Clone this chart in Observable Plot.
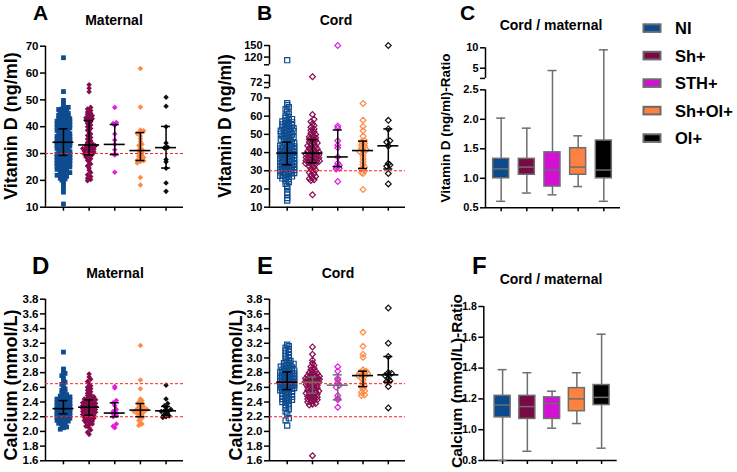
<!DOCTYPE html>
<html><head><meta charset="utf-8">
<script src="https://cdn.jsdelivr.net/npm/d3@7"></script>
<script src="https://cdn.jsdelivr.net/npm/@observablehq/plot@0.6"></script>
<style>
body{margin:0;background:#fff;}
#chart{position:relative;width:737px;height:472px;overflow:hidden;background:#fff;}
#chart svg{position:absolute;left:0;top:0;}
#chart svg [aria-label^="y-axis"] line,#chart svg [aria-label^="y-axis"] path,
#chart svg [aria-label^="x-axis"] line,#chart svg [aria-label^="x-axis"] path{stroke-width:1.5px;}
</style></head>
<body><div id="chart"></div>
<script>
const W = 737, H = 472;
const FONT = "'Liberation Sans', Arial, Helvetica, sans-serif";

// ---------- categories & colours ----------
const groups = ["NI", "Sh+", "STH+", "Sh+OI+", "OI+"];
const boxColors = ["#0b4a8e", "#7a0a45", "#d60fd6", "#fd8240", "#000000"];
const dotColors = ["#0f4c8f", "#860c4e", "#e21ee2", "#ff8a46", "#111111"];
const dotSymbols = ["square", "diamond2", "diamond2", "diamond2", "diamond2"];

// ---------- A: maternal vitamin D (ng/ml) ----------
const vitdMatNI = [65.7, 53.1, 49.8, 48.9, 47.6, 47.2, 46.8, 46.6, 46.4, 46.1, 45.7, 45.4, 45.0, 44.9, 44.6, 44.3, 44.1, 43.8, 43.5, 43.2, 43.0, 42.9, 42.5, 42.3, 42.1, 41.8, 41.6, 41.5, 41.2, 41.0, 40.8, 40.6, 40.4, 40.2, 39.9, 39.6, 39.4, 39.1, 38.8, 38.6, 38.3, 38.1, 37.9, 37.6, 37.4, 37.1, 36.9, 36.7, 36.4, 36.2, 36.0, 35.8, 35.6, 35.4, 35.2, 35.0, 34.9, 34.7, 34.6, 34.4, 34.3, 34.2, 34.0, 33.8, 33.6, 33.4, 33.2, 33.0, 32.8, 32.5, 32.3, 32.1, 31.9, 31.6, 31.4, 31.2, 31.0, 30.7, 30.5, 30.3, 30.1, 29.9, 29.8, 29.6, 29.5, 29.4, 29.3, 29.0, 28.9, 28.7, 28.5, 28.3, 28.0, 27.9, 27.6, 27.4, 27.3, 27.1, 26.9, 26.7, 26.5, 26.3, 26.1, 25.9, 25.7, 25.4, 25.2, 25.0, 24.8, 24.6, 24.3, 24.1, 23.8, 23.6, 23.3, 22.9, 22.7, 22.4, 22.1, 21.9, 21.5, 21.0, 20.8, 20.5, 20.1, 19.3, 18.4, 17.2, 15.6, 11.2];
const vitdMatSh = [55.6, 54.3, 53.0, 47.2, 46.6, 46.0, 45.5, 45.0, 44.6, 44.1, 43.7, 43.3, 43.0, 42.7, 42.4, 41.8, 41.2, 40.6, 40.0, 39.3, 38.7, 38.0, 37.3, 36.7, 36.0, 35.4, 34.8, 34.2, 33.7, 33.3, 33.1, 32.9, 32.6, 32.4, 32.1, 31.9, 31.6, 31.4, 31.1, 30.9, 30.6, 30.4, 30.1, 29.8, 29.6, 29.2, 28.7, 28.1, 27.5, 26.8, 26.1, 25.4, 24.6, 23.8, 22.9, 22.1, 21.4, 20.8, 20.3, 19.9];
const vitdMatSTH = [47.2, 41.6, 41.2, 40.5, 37.3, 35.0, 33.4, 31.4, 29.8, 29.5, 23.0];
const vitdMatShOI = [61.7, 47.3, 38.8, 38.5, 38.0, 37.5, 36.5, 35.5, 34.5, 33.5, 33.0, 32.0, 31.5, 31.1, 30.5, 30.0, 29.5, 29.0, 28.5, 28.0, 27.5, 27.3, 27.0, 26.5, 21.1, 18.3];
const vitdMatOI = [51.0, 47.6, 40.0, 33.9, 32.3, 32.1, 27.8, 26.9, 24.5, 19.0, 15.9];
const vitdMatMedian = [34.2, 33.2, 33.4, 31.1, 32.2];
const vitdMatQ1 = [29.3, 29.5, 29.6, 27.4, 24.6];
const vitdMatQ3 = [39.2, 42.3, 40.8, 37.8, 40.1];

// ---------- B: cord vitamin D (ng/ml) ----------
const vitdCordNI = [112, 67.1, 66.0, 65.0, 63.8, 62.5, 61.4, 60.3, 59.4, 59.0, 58.4, 58.0, 57.5, 57.1, 56.6, 56.2, 55.8, 55.4, 55.0, 54.6, 54.2, 53.8, 53.4, 53.1, 52.7, 52.4, 52.0, 51.7, 51.3, 51.0, 50.6, 50.3, 49.9, 49.6, 49.2, 48.9, 48.5, 48.2, 47.8, 47.5, 47.1, 46.5, 45.9, 45.5, 45.2, 44.9, 44.7, 44.4, 44.2, 43.9, 43.7, 43.4, 43.2, 42.9, 42.7, 42.5, 42.2, 42.0, 41.8, 41.5, 41.3, 41.1, 40.9, 40.7, 40.5, 40.3, 40.2, 40.0, 39.9, 39.8, 39.5, 39.2, 39.0, 38.7, 38.5, 38.2, 38.0, 37.7, 37.5, 37.2, 37.0, 36.7, 36.5, 36.2, 36.0, 35.7, 35.5, 35.2, 35.0, 34.7, 34.5, 34.3, 34.1, 33.9, 33.7, 33.5, 33.4, 33.1, 32.9, 32.8, 32.5, 32.2, 32.0, 31.8, 31.5, 31.3, 31.1, 30.8, 30.6, 30.4, 30.0, 29.8, 29.6, 29.3, 29.1, 28.8, 28.6, 28.1, 27.8, 27.5, 27.2, 26.9, 26.5, 26.2, 25.8, 25.5, 24.7, 23.8, 22.8, 21.7, 20.2, 18.2, 16.8, 15.0, 13.7];
const vitdCordSh = [74.4, 60.9, 58.3, 57.0, 55.9, 54.9, 53.9, 53.0, 52.2, 51.4, 50.6, 49.9, 49.3, 48.7, 48.2, 47.7, 47.3, 46.8, 46.3, 45.8, 45.3, 44.8, 44.3, 43.8, 43.3, 42.9, 42.4, 42.0, 41.5, 41.1, 40.7, 40.3, 40.0, 39.8, 39.4, 39.0, 38.7, 38.3, 38.0, 37.6, 37.3, 37.0, 36.6, 36.3, 36.0, 35.7, 35.4, 35.1, 34.9, 34.7, 34.5, 34.1, 33.6, 33.0, 32.4, 31.8, 31.1, 30.4, 29.7, 29.0, 28.3, 27.6, 26.9, 26.2, 25.6, 25.1, 24.7, 16.8];
const vitdCordSTH = [150, 54.6, 53.5, 46.5, 44.0, 42.6, 37.6, 34.2, 33.0, 32.2, 31.4, 31.0, 24.1];
const vitdCordShOI = [67.0, 57.8, 54.3, 52.0, 49.0, 46.5, 46.0, 45.0, 44.0, 43.5, 42.5, 41.5, 41.1, 40.5, 39.5, 38.0, 36.5, 35.0, 33.5, 32.0, 31.0, 30.0, 29.0, 28.5, 19.7];
const vitdCordOI = [150, 57.7, 53.0, 46.5, 45.8, 43.6, 34.0, 33.2, 32.5, 28.5, 22.8];
const vitdCordMedian = [39.7, 39.7, 37.6, 41.1, 43.7];
const vitdCordQ1 = [33.3, 34.4, 32.3, 31.3, 31.0];
const vitdCordQ3 = [45.7, 47.1, 52.4, 46.3, 53.0];

// ---------- C: cord / maternal vitamin D ratio ----------
const vitdRatioMin = [0.61, 0.75, 0.72, 0.86, 0.61];
const vitdRatioQ1 = [1.00, 1.06, 0.86, 1.06, 1.00];
const vitdRatioMedian = [1.16, 1.19, 1.14, 1.19, 1.14];
const vitdRatioQ3 = [1.33, 1.33, 1.44, 1.51, 1.64];
const vitdRatioMax = [2.02, 1.85, 4.43, 1.72, 9.5];

// ---------- D: maternal calcium (mmol/L) ----------
const caMatNI = [3.08, 2.85, 2.82, 2.79, 2.76, 2.73, 2.70, 2.67, 2.64, 2.61, 2.58, 2.56, 2.54, 2.52, 2.50, 2.49, 2.48, 2.47, 2.46, 2.46, 2.45, 2.45, 2.44, 2.44, 2.43, 2.43, 2.42, 2.42, 2.41, 2.41, 2.40, 2.40, 2.39, 2.39, 2.38, 2.38, 2.37, 2.37, 2.36, 2.36, 2.35, 2.35, 2.35, 2.34, 2.34, 2.34, 2.33, 2.33, 2.33, 2.32, 2.32, 2.32, 2.31, 2.31, 2.31, 2.30, 2.30, 2.30, 2.29, 2.29, 2.29, 2.28, 2.28, 2.28, 2.27, 2.27, 2.27, 2.27, 2.26, 2.26, 2.26, 2.26, 2.25, 2.25, 2.25, 2.25, 2.24, 2.24, 2.24, 2.24, 2.24, 2.23, 2.23, 2.23, 2.22, 2.22, 2.22, 2.21, 2.21, 2.21, 2.20, 2.20, 2.19, 2.19, 2.18, 2.18, 2.17, 2.16, 2.15, 2.14, 2.13, 2.12, 2.11, 2.10, 2.08, 2.06, 2.05, 2.03];
const caMatSh = [2.78, 2.74, 2.71, 2.68, 2.65, 2.62, 2.60, 2.58, 2.56, 2.54, 2.52, 2.50, 2.49, 2.47, 2.46, 2.45, 2.44, 2.43, 2.42, 2.42, 2.41, 2.40, 2.40, 2.39, 2.38, 2.38, 2.37, 2.36, 2.36, 2.35, 2.35, 2.34, 2.34, 2.33, 2.33, 2.32, 2.31, 2.31, 2.30, 2.29, 2.29, 2.28, 2.27, 2.26, 2.26, 2.25, 2.24, 2.24, 2.23, 2.23, 2.22, 2.21, 2.20, 2.19, 2.18, 2.17, 2.16, 2.15, 2.14, 2.13, 2.12, 2.10, 2.09, 2.07, 2.05, 2.02, 1.99, 1.96];
const caMatSTH = [2.61, 2.59, 2.42, 2.39, 2.35, 2.30, 2.27, 2.25, 2.24, 2.22, 2.20, 2.10, 2.07, 2.05];
const caMatShOI = [3.17, 2.70, 2.58, 2.44, 2.42, 2.40, 2.38, 2.36, 2.34, 2.32, 2.31, 2.30, 2.30, 2.29, 2.28, 2.27, 2.26, 2.25, 2.24, 2.22, 2.20, 2.18, 2.15, 2.12, 2.10, 2.08];
const caMatOI = [2.63, 2.44, 2.38, 2.35, 2.33, 2.30, 2.28, 2.28, 2.27, 2.25, 2.23, 2.21, 2.20, 2.19];
const caMatMedian = [2.31, 2.33, 2.25, 2.29, 2.28];
const caMatQ1 = [2.24, 2.22, 2.20, 2.20, 2.22];
const caMatQ3 = [2.42, 2.43, 2.39, 2.38, 2.34];

// ---------- E: cord calcium (mmol/L) ----------
const caCordNI = [3.18, 3.16, 3.14, 3.12, 3.10, 3.08, 3.06, 3.04, 3.02, 3.00, 2.98, 2.96, 2.95, 2.93, 2.92, 2.91, 2.90, 2.89, 2.88, 2.87, 2.86, 2.85, 2.84, 2.83, 2.83, 2.82, 2.82, 2.81, 2.80, 2.80, 2.79, 2.79, 2.78, 2.78, 2.77, 2.77, 2.76, 2.76, 2.75, 2.75, 2.74, 2.74, 2.73, 2.73, 2.72, 2.72, 2.71, 2.71, 2.70, 2.70, 2.69, 2.69, 2.68, 2.68, 2.67, 2.67, 2.66, 2.66, 2.66, 2.65, 2.65, 2.64, 2.64, 2.64, 2.63, 2.63, 2.62, 2.62, 2.62, 2.61, 2.61, 2.60, 2.60, 2.60, 2.59, 2.59, 2.59, 2.58, 2.58, 2.58, 2.57, 2.56, 2.55, 2.54, 2.53, 2.52, 2.51, 2.50, 2.49, 2.48, 2.47, 2.46, 2.45, 2.44, 2.43, 2.42, 2.41, 2.40, 2.38, 2.36, 2.34, 2.32, 2.30, 2.27, 2.24, 2.18, 2.15, 2.08];
const caCordSh = [3.15, 3.05, 2.97, 2.93, 2.90, 2.88, 2.86, 2.84, 2.82, 2.81, 2.80, 2.79, 2.78, 2.77, 2.76, 2.75, 2.74, 2.74, 2.73, 2.73, 2.72, 2.72, 2.71, 2.71, 2.70, 2.70, 2.69, 2.69, 2.68, 2.68, 2.67, 2.67, 2.66, 2.65, 2.64, 2.63, 2.62, 2.61, 2.60, 2.59, 2.58, 2.57, 2.56, 2.55, 2.54, 2.53, 2.53, 2.52, 2.51, 2.50, 2.49, 2.48, 2.47, 2.46, 2.45, 2.44, 2.43, 2.42, 2.41, 2.40, 2.38, 2.37, 2.36, 1.67];
const caCordSTH = [2.88, 2.82, 2.72, 2.70, 2.66, 2.63, 2.60, 2.49, 2.45, 2.43, 2.33];
const caCordShOI = [3.35, 3.16, 3.05, 3.01, 2.84, 2.82, 2.81, 2.80, 2.79, 2.78, 2.77, 2.76, 2.75, 2.72, 2.70, 2.66, 2.62, 2.61, 2.58, 2.55, 2.53, 2.50, 2.49];
const caCordOI = [3.68, 3.20, 3.02, 2.80, 2.79, 2.77, 2.76, 2.72, 2.69, 2.68, 2.61, 2.32];
const caCordMedian = [2.67, 2.67, 2.63, 2.76, 2.77];
const caCordQ1 = [2.57, 2.52, 2.43, 2.61, 2.67];
const caCordQ3 = [2.81, 2.74, 2.77, 2.82, 3.02];

// ---------- F: cord / maternal calcium ratio ----------
const caRatioMin = [0.80, 0.86, 1.01, 1.04, 0.88];
const caRatioQ1 = [1.08, 1.07, 1.07, 1.12, 1.16];
const caRatioMedian = [1.16, 1.15, 1.17, 1.20, 1.21];
const caRatioQ3 = [1.22, 1.22, 1.21, 1.27, 1.29];
const caRatioMax = [1.39, 1.37, 1.25, 1.37, 1.62];

// ---------- tick labels & reference lines ----------
const vitdTicks = [10, 20, 30, 40, 50, 60, 70];
const vitdCordBreakTicks = [72, 120, 150];
const caTicks = [1.6, 1.8, 2.0, 2.2, 2.4, 2.6, 2.8, 3.0, 3.2, 3.4, 3.6, 3.8];
const vitdRatioTicks = [0.5, 1.0, 1.5, 2.0, 2.5, 5, 10];
const caRatioTicks = [0.8, 1.0, 1.2, 1.4, 1.6, 1.8];
const vitdCutoff = [30];
const caNormalRange = [2.2, 2.65];

// ---------- helpers ----------
function makePieces(pieces, gap) {
  let prev = null;
  return pieces.map((p) => {
    const u0 = prev === null ? p.from : prev + gap;
    const u1 = u0 + (p.to - p.from) * p.k;
    prev = u1;
    return {...p, u0, u1};
  });
}
function mapper(P) {
  return (v) => {
    let p = P.find((q) => v >= q.from && v <= q.to);
    if (!p) p = v < P[0].from ? P[0] : P[P.length - 1];
    return p.u0 + (v - p.from) * p.k;
  };
}
function tickSpec(P, labeled, fmt) {
  const out = [];
  P.forEach((p) => {
    const vals = new Set([p.from, p.to, ...labeled.filter((v) => v >= p.from && v <= p.to)]);
    for (const v of vals) {
      const first = P.find((q) => v >= q.from && v <= q.to) === p;
      out.push({u: p.u0 + (v - p.from) * p.k, label: first && labeled.includes(v) ? fmt(v) : ""});
    }
  });
  return out;
}

function basePlot(cfg, marks) {
  const [L, R, T, B] = cfg.frame;
  const P = cfg.P;
  const ticks = tickSpec(P, cfg.labeled, cfg.fmt);
  const yDomain = [P[0].u0, P[P.length - 1].u1];
  return Plot.plot({
    width: W, height: H,
    marginLeft: L, marginRight: W - R, marginTop: T, marginBottom: H - B,
    style: `background: transparent; overflow: visible; font-family: ${FONT}; font-size: ${cfg.tickFont}px; font-weight: bold; color: #000;`,
    x: {domain: cfg.xDomain, ticks: [0, 1, 2, 3, 4], tickFormat: () => "", tickSize: 4, label: null},
    y: {domain: yDomain, ticks: ticks.map((t) => t.u),
        tickFormat: (u) => (ticks.find((t) => Math.abs(t.u - u) < 1e-9) || {label: ""}).label,
        tickSize: 5, tickPadding: 2, label: null},
    color: {type: "identity"},
    marks: [
      Plot.ruleX(P, {x: () => cfg.xDomain[0], y1: "u0", y2: "u1", stroke: "#000", strokeWidth: 1.5}),
      Plot.ruleY([yDomain[0]], {stroke: "#000", strokeWidth: 1.5}),
      ...marks
    ]
  });
}

function spread(vals, gi, u, ky, kx, o) {
  const items = vals.map((v) => ({v, u: u(v)})).sort((a, b) => a.u - b.u);
  const bins = d3.groups(items, (d) => Math.round((d.u * ky) / o.bin));
  const out = [];
  for (const [, arr] of bins) {
    const n = arr.length;
    const half = Math.min(o.maxHalf, ((n - 1) * o.step) / 2);
    arr.forEach((d, k) => {
      const off = n === 1 ? 0 : -half + (k * 2 * half) / (n - 1);
      out.push({g: gi, v: d.v, x: gi + off / kx, y: d.u});
    });
  }
  return out;
}

function scatterPanel(cfg, series, stats, hollow, refs) {
  const [L, R, T, B] = cfg.frame;
  const P = cfg.P, u = mapper(P);
  const kx = (R - L) / (cfg.xDomain[1] - cfg.xDomain[0]);
  const ky = (B - T) / (P[P.length - 1].u1 - P[0].u0);
  const opt = hollow ? {bin: 3, step: 3.2, maxHalf: 7} : {bin: 3, step: 3.2, maxHalf: 6.5};
  const pts = series.flatMap((vals, gi) => spread(vals, gi, u, ky, kx, opt));
  const summ = groups.map((g, i) => ({i, med: u(stats.median[i]), q1: u(stats.q1[i]), q3: u(stats.q3[i]),
    line: stats.line ? stats.line[i] : "#000"}));
  const mh = 10.5 / kx, ch = 4.5 / kx;
  const dots = groups.map((g, i) => Plot.dot(pts.filter((p) => p.g === i), hollow
    ? {x: "x", y: "y", symbol: dotSymbols[i], r: i === 0 ? 2.9 : 2.6, stroke: dotColors[i], fill: "none", strokeWidth: 1.2}
    : {x: "x", y: "y", symbol: dotSymbols[i], r: i === 0 ? 2.7 : 2.5, fill: dotColors[i]}));
  return basePlot(cfg, [
    ...dots,
    Plot.ruleY(refs, {y: (d) => u(d), stroke: "#ff1f1f", strokeWidth: 1, strokeDasharray: "3,2"}),
    Plot.ruleX(summ, {x: "i", y1: "q1", y2: "q3", stroke: "line", strokeWidth: 1.5}),
    Plot.ruleY(summ, {y: "med", x1: (d) => d.i - mh, x2: (d) => d.i + mh, stroke: "line", strokeWidth: 1.6}),
    Plot.ruleY(summ, {y: "q1", x1: (d) => d.i - ch, x2: (d) => d.i + ch, stroke: "line", strokeWidth: 1.5}),
    Plot.ruleY(summ, {y: "q3", x1: (d) => d.i - ch, x2: (d) => d.i + ch, stroke: "line", strokeWidth: 1.5})
  ]);
}

function boxPanel(cfg, s) {
  const [L, R] = cfg.frame;
  const u = mapper(cfg.P);
  const kx = (R - L) / (cfg.xDomain[1] - cfg.xDomain[0]);
  const bh = 8 / kx, ch = 4.5 / kx;
  const LINE = "#6e6e6e";
  const data = groups.map((g, i) => ({i, min: u(s.min[i]), q1: u(s.q1[i]), med: u(s.median[i]),
    q3: u(s.q3[i]), max: u(s.max[i]), fill: boxColors[i]}));
  return basePlot(cfg, [
    Plot.ruleX(data, {x: "i", y1: "q3", y2: "max", stroke: LINE, strokeWidth: 1.5}),
    Plot.ruleX(data, {x: "i", y1: "min", y2: "q1", stroke: LINE, strokeWidth: 1.5}),
    Plot.ruleY(data, {y: "max", x1: (d) => d.i - ch, x2: (d) => d.i + ch, stroke: LINE, strokeWidth: 1.5}),
    Plot.ruleY(data, {y: "min", x1: (d) => d.i - ch, x2: (d) => d.i + ch, stroke: LINE, strokeWidth: 1.5}),
    Plot.rect(data, {x1: (d) => d.i - bh, x2: (d) => d.i + bh, y1: "q1", y2: "q3", fill: "fill", stroke: LINE, strokeWidth: 1.5}),
    Plot.ruleY(data, {y: "med", x1: (d) => d.i - bh, x2: (d) => d.i + bh, stroke: LINE, strokeWidth: 1.5})
  ]);
}

// ---------- panel configs ----------
const intFmt = (v) => String(v);
const dec1 = (v) => v.toFixed(1);
const cfgA = {frame: [45, 183, 45.7, 206.7], xDomain: [-0.7, 4.68], tickFont: 11.5,
  P: makePieces([{from: 10, to: 70, k: 1}], 0), labeled: vitdTicks, fmt: intFmt};
const cfgB = {frame: [269, 405, 45, 206.7], xDomain: [-0.7, 4.68], tickFont: 11,
  P: makePieces([{from: 10, to: 70, k: 1}, {from: 70, to: 75, k: 1.36}, {from: 100, to: 150, k: 0.212}], 5.7),
  labeled: vitdTicks.concat(vitdCordBreakTicks), fmt: intFmt};
const cfgC = {frame: [485, 620, 47.3, 207.3], xDomain: [-0.61, 4.65], tickFont: 11,
  P: makePieces([{from: 0.5, to: 2.5, k: 1}, {from: 2.5, to: 10, k: 0.0692}], 0.193),
  labeled: vitdRatioTicks, fmt: (v) => (v < 3 ? v.toFixed(1) : String(v))};
const cfgD = {frame: [45, 183, 298.7, 460.3], xDomain: [-0.7, 4.68], tickFont: 11.5,
  P: makePieces([{from: 1.6, to: 3.8, k: 1}], 0), labeled: caTicks, fmt: dec1};
const cfgE = {frame: [269, 405, 298.7, 460.3], xDomain: [-0.7, 4.68], tickFont: 11.5,
  P: makePieces([{from: 1.6, to: 3.8, k: 1}], 0), labeled: caTicks, fmt: dec1};
const cfgF = {frame: [483.3, 616.7, 306, 460], xDomain: [-0.76, 4.63], tickFont: 10.5,
  P: makePieces([{from: 0.8, to: 1.8, k: 1}], 0), labeled: caRatioTicks, fmt: dec1};

const chart = document.getElementById("chart");
chart.append(
  scatterPanel(cfgA, [vitdMatNI, vitdMatSh, vitdMatSTH, vitdMatShOI, vitdMatOI],
    {median: vitdMatMedian, q1: vitdMatQ1, q3: vitdMatQ3}, false, vitdCutoff),
  scatterPanel(cfgB, [vitdCordNI, vitdCordSh, vitdCordSTH, vitdCordShOI, vitdCordOI],
    {median: vitdCordMedian, q1: vitdCordQ1, q3: vitdCordQ3}, true, vitdCutoff),
  boxPanel(cfgC, {min: vitdRatioMin, q1: vitdRatioQ1, median: vitdRatioMedian, q3: vitdRatioQ3, max: vitdRatioMax}),
  scatterPanel(cfgD, [caMatNI, caMatSh, caMatSTH, caMatShOI, caMatOI],
    {median: caMatMedian, q1: caMatQ1, q3: caMatQ3}, false, caNormalRange),
  scatterPanel(cfgE, [caCordNI, caCordSh, caCordSTH, caCordShOI, caCordOI],
    {median: caCordMedian, q1: caCordQ1, q3: caCordQ3, line: ["#000", "#6e6e6e", "#6e6e6e", "#000", "#000"]}, true, caNormalRange),
  boxPanel(cfgF, {min: caRatioMin, q1: caRatioQ1, median: caRatioMedian, q3: caRatioQ3, max: caRatioMax})
);

// ---------- text overlay: panel letters, titles, axis titles, legend ----------
const letters = [
  {t: "A", x: 33, y: 20, s: 21}, {t: "B", x: 257, y: 20, s: 21}, {t: "C", x: 460, y: 20, s: 21},
  {t: "D", x: 32, y: 273.5, s: 24}, {t: "E", x: 257, y: 274, s: 24}, {t: "F", x: 472, y: 274, s: 24}
];
const titles = [
  {t: "Maternal", x: 114, y: 25}, {t: "Cord", x: 336, y: 25}, {t: "Cord / maternal", x: 551, y: 30},
  {t: "Maternal", x: 115, y: 278}, {t: "Cord", x: 338, y: 278}, {t: "Cord / maternal", x: 551, y: 284}
];
const yTitles = [
  {t: "Vitamin D (ng/ml)", x: 16.5, y: 126, s: 18}, {t: "Vitamin D (ng/ml)", x: 231, y: 126, s: 17.5},
  {t: "Vitamin D (ng/ml)-Ratio", x: 449.5, y: 128, s: 13.5},
  {t: "Calcium (mmol/L)", x: 17, y: 385, s: 18}, {t: "Calcium (mmol/L)", x: 241.5, y: 385, s: 18},
  {t: "Calcium (mmol/L)-Ratio", x: 462, y: 381, s: 15.5}
];
const ov = d3.create("svg").attr("width", W).attr("height", H)
  .style("font-family", FONT).style("font-weight", "bold").style("pointer-events", "none");
ov.selectAll("text.letter").data(letters).join("text").attr("class", "letter")
  .attr("x", (d) => d.x).attr("y", (d) => d.y).attr("font-size", (d) => d.s).text((d) => d.t);
ov.selectAll("text.title").data(titles).join("text").attr("class", "title")
  .attr("x", (d) => d.x).attr("y", (d) => d.y).attr("font-size", 14).attr("text-anchor", "middle").text((d) => d.t);
ov.selectAll("text.ytitle").data(yTitles).join("text").attr("class", "ytitle")
  .attr("transform", (d) => `translate(${d.x},${d.y}) rotate(-90)`)
  .attr("font-size", (d) => d.s).attr("text-anchor", "middle").text((d) => d.t);
const leg = ov.append("g");
leg.selectAll("rect").data(groups).join("rect")
  .attr("x", 643.5).attr("y", (d, i) => 24.3 + i * 27.5).attr("width", 17).attr("height", 7.6)
  .attr("fill", (d, i) => boxColors[i]).attr("stroke", "#6a6a6a").attr("stroke-width", 2);
leg.selectAll("text").data(groups).join("text")
  .attr("x", 675).attr("y", (d, i) => 34.3 + i * 27.5).attr("font-size", 16.5).text((d) => d);
chart.append(ov.node());
</script>
</body></html>
